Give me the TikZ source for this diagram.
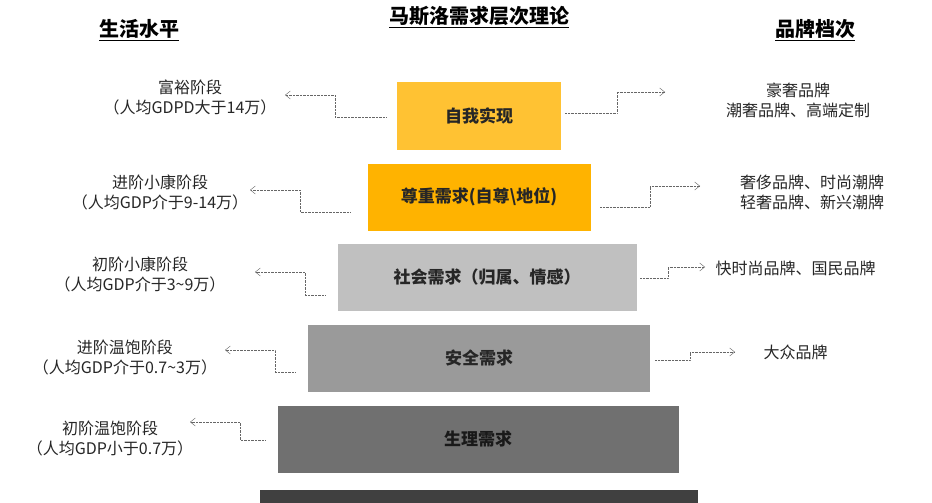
\documentclass[tikz,border=0pt]{standalone}
\usepackage{fontspec}
\setmainfont{Noto Sans CJK SC}
\usetikzlibrary{arrows.meta}
\definecolor{c1}{HTML}{FFC233}\definecolor{c2}{HTML}{FFB300}\definecolor{c3}{HTML}{C0C0C0}
\definecolor{c4}{HTML}{9A9A9A}\definecolor{c5}{HTML}{707070}\definecolor{c6}{HTML}{404040}
\begin{document}
\begin{tikzpicture}[x=1pt,y=-1pt,
 lvl/.style={draw=none,minimum height=67pt,font=\fontsize{17}{20}\selectfont\bfseries,text=black!85,inner sep=0pt},
 lab/.style={font=\fontsize{16}{20}\selectfont,align=center,text=black!85},
 con/.style={densely dotted,gray!80!black,-{Straight Barb[length=5pt,width=8pt]}},
 hd/.style={font=\fontsize{20}{24}\selectfont\bfseries}]
\useasboundingbox (0,0) rectangle (932,503);
\fill[white] (0,0) rectangle (932,503);
\node[hd] (t) at (479,17) {\underline{马斯洛需求层次理论}};
\node[hd] (l) at (139,30) {\underline{生活水平}};
\node[hd] (r) at (815,30) {\underline{品牌档次}};
\node[lvl,fill=c1,minimum width=164pt] (b1) at (479,116) {自我实现};
\node[lvl,fill=c2,minimum width=223pt] (b2) at (479,197) {尊重需求(自尊\textbackslash 地位)};
\node[lvl,fill=c3,minimum width=299pt] (b3) at (487,277) {社会需求（归属、情感）};
\node[lvl,fill=c4,minimum width=342pt] (b4) at (479,358) {安全需求};
\node[lvl,fill=c5,minimum width=401pt,text=black!90] (b5) at (478,439) {生理需求};
\fill[c6] (260,490) rectangle (698,503);
\node[lab] (L1) at (190,97) {富裕阶段\\（人均GDPD大于14万）};
\node[lab] (L2) at (160,192) {进阶小康阶段\\（人均GDP介于9-14万）};
\node[lab] (L3) at (140,274) {初阶小康阶段\\（人均GDP介于3\textasciitilde9万）};
\node[lab] (L4) at (125,357) {进阶温饱阶段\\（人均GDP介于0.7\textasciitilde3万）};
\node[lab] (L5) at (110,438) {初阶温饱阶段\\（人均GDP小于0.7万）};
\node[lab] (R1) at (798,100) {豪奢品牌\\潮奢品牌、高端定制};
\node[lab] (R2) at (812,192) {奢侈品牌、时尚潮牌\\轻奢品牌、新兴潮牌};
\node[lab,anchor=west] (R3) at (712,268) {快时尚品牌、国民品牌};
\node[lab,anchor=west] (R4) at (760,352) {大众品牌};
\draw[con] (386,117) -| (335,95) -- (285,95);
\draw[con] (350,212) -| (300,190) -- (250,190);
\draw[con] (325,295) -| (305,272) -- (255,272);
\draw[con] (295,372) -| (275,350) -- (225,350);
\draw[con] (265,440) -| (240,422) -- (190,422);
\draw[con] (565,113) -| (617,92) -- (665,92);
\draw[con] (600,207) -| (650,186) -- (700,186);
\draw[con] (640,278) -| (668,267) -- (705,267);
\draw[con] (655,360) -| (690,352) -- (735,352);
\end{tikzpicture}
\end{document}
